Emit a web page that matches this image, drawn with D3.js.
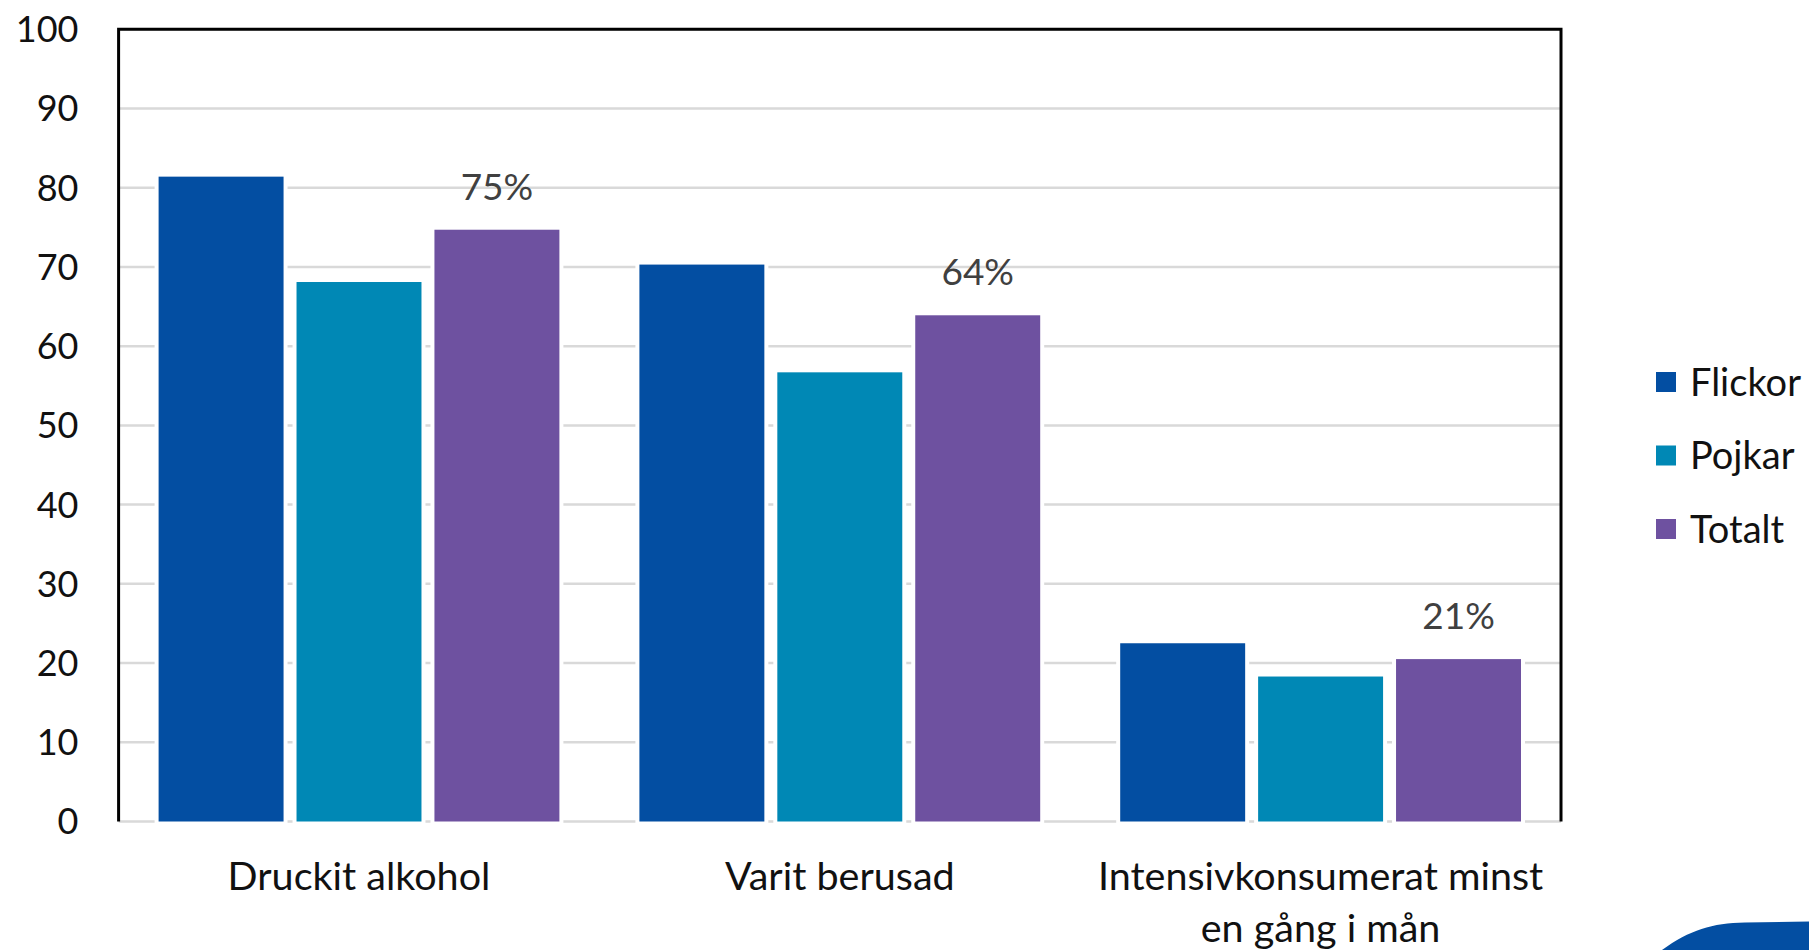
<!DOCTYPE html>
<html>
<head>
<meta charset="utf-8">
<script src="https://cdn.jsdelivr.net/npm/d3@7"></script>
<style>
  body { margin: 0; background: #fff; }
  svg { display: block; font-family: Lato, "Open Sans", sans-serif; }
</style>
</head>
<body>
<div id="chart"></div>
<script>
// data
const categories = ["Druckit alkohol", "Varit berusad", "Intensivkonsumerat minst en gång i mån"];
const categoryLines = [["Druckit alkohol"], ["Varit berusad"], ["Intensivkonsumerat minst", "en gång i mån"]];
const seriesNames = ["Flickor", "Pojkar", "Totalt"];
const flickor = [81.4, 70.3, 22.5];
const pojkar = [68.1, 56.7, 18.3];
const totalt = [74.7, 63.9, 20.5];
const totaltLabels = ["75%", "64%", "21%"];
const yTicks = [0, 10, 20, 30, 40, 50, 60, 70, 80, 90, 100];
const colors = ["#034ea2", "#0088b5", "#6e51a0"];

const seriesValues = [flickor, pojkar, totalt];

const width = 1809,
    height = 950;
const margin = {top: 29.3, right: 248, bottom: 128.5, left: 118.6};

const svg = d3.select("#chart")
    .append("svg")
    .attr("width", width)
    .attr("height", height);

// scales
const x0 = d3.scaleBand()
    .domain(categories)
    .range([margin.left, width - margin.right])
    .padding(0);

const groupPad = 40;
const x1 = d3.scaleBand()
    .domain(seriesNames)
    .range([groupPad, x0.bandwidth() - groupPad])
    .paddingInner(0.094)
    .paddingOuter(0);

const y = d3.scaleLinear()
    .domain([0, 100])
    .range([height - margin.bottom, margin.top]);

const color = d3.scaleOrdinal()
    .domain(seriesNames)
    .range(colors);

// gridlines
svg.append("g")
    .selectAll("line")
    .data(yTicks)
    .join("line")
    .attr("x1", margin.left)
    .attr("x2", width - margin.right)
    .attr("y1", d => y(d))
    .attr("y2", d => y(d))
    .attr("stroke", "#d9d9d9")
    .attr("stroke-width", 2.5);

// y tick labels
svg.append("g")
    .selectAll("text")
    .data(yTicks)
    .join("text")
    .attr("x", 78.5)
    .attr("y", d => y(d))
    .attr("dy", "0.36em")
    .attr("text-anchor", "end")
    .attr("font-size", 36)
    .attr("fill", "#111")
    .text(d => d);

// bars
const rows = [];
categories.forEach((c, i) => {
    seriesNames.forEach((s, j) => {
        rows.push({cat: c, series: s, value: seriesValues[j][i]});
    });
});

svg.append("g")
    .selectAll("rect")
    .data(rows)
    .join("rect")
    .attr("x", d => x0(d.cat) + x1(d.series))
    .attr("y", d => y(d.value))
    .attr("width", x1.bandwidth())
    .attr("height", d => y(0) - y(d.value))
    .attr("fill", d => color(d.series))
    .attr("stroke", "#fff")
    .attr("stroke-width", 8)
    .style("paint-order", "stroke");

// data labels on Totalt
svg.append("g")
    .selectAll("text")
    .data(categories)
    .join("text")
    .attr("x", (d, i) => x0(d) + x1("Totalt") + x1.bandwidth() / 2)
    .attr("y", (d, i) => y(totalt[i]) - 30)
    .attr("text-anchor", "middle")
    .attr("font-size", 37)
    .attr("fill", "#404040")
    .text((d, i) => totaltLabels[i]);

// frame (top, left, right)
svg.append("path")
    .attr("d", `M${margin.left},${y(0)}V${margin.top}H${width - margin.right}V${y(0)}`)
    .attr("fill", "none")
    .attr("stroke", "#000")
    .attr("stroke-width", 3);

// category labels
categories.forEach((c, i) => {
    const t = svg.append("text")
        .attr("x", x0(c) + x0.bandwidth() / 2)
        .attr("y", 890)
        .attr("text-anchor", "middle")
        .attr("font-size", 39.5)
        .attr("fill", "#111");
    categoryLines[i].forEach((line, k) => {
        t.append("tspan")
            .attr("x", x0(c) + x0.bandwidth() / 2)
            .attr("dy", k === 0 ? 0 : 52)
            .text(line);
    });
});

// legend
const legend = svg.append("g")
    .attr("transform", "translate(1656,372)");

seriesNames.forEach((s, i) => {
    legend.append("rect")
        .attr("x", 0)
        .attr("y", i * 73.5)
        .attr("width", 20)
        .attr("height", 20)
        .attr("fill", color(s));
    legend.append("text")
        .attr("x", 34)
        .attr("y", i * 73.5 + 10)
        .attr("dy", "0.36em")
        .attr("font-size", 38)
        .attr("fill", "#111")
        .text(s);
});

// logo wave in the corner
svg.append("path")
    .attr("d", "M1662,950 C1690,930 1712,923 1745,922.5 L1809,921.5 L1809,950 Z")
    .attr("fill", "#034ea2");
</script>
</body>
</html>
